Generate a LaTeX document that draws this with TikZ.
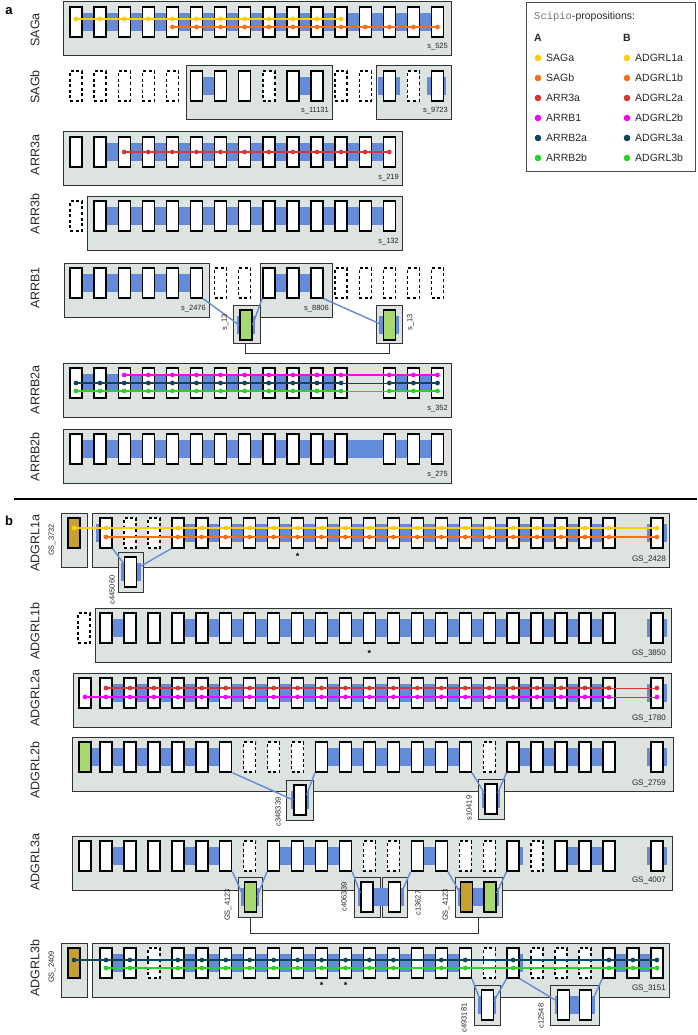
\documentclass[tikz,border=0pt]{standalone}
\usepackage{fontspec}
\setmainfont{Liberation Sans}
\setmonofont{Liberation Mono}
\usetikzlibrary{positioning}

\definecolor{boxgray}{RGB}{221,227,223}
\definecolor{intron}{RGB}{99,139,218}
\definecolor{sagYel}{RGB}{255,204,0}
\definecolor{sagOra}{RGB}{250,112,22}
\definecolor{arrRed}{RGB}{212,56,56}
\definecolor{arrMag}{RGB}{255,0,255}
\definecolor{arrTeal}{RGB}{16,68,88}
\definecolor{arrGrn}{RGB}{34,214,34}
\definecolor{exGreen}{RGB}{168,216,112}
\definecolor{exGold}{RGB}{199,160,52}

\pgfdeclarelayer{boxes}
\pgfdeclarelayer{bands}
\pgfsetlayers{boxes,bands,main}

\newcommand{\ax}[1]{76+24.1*(#1-1)}
\newcommand{\bx}[1]{106+23.95*(#1-1)}
\newcommand{\exonsA}[4]{\foreach \i in {#3} {\node[#2] (#1\i) at ({\ax{\i}},#4) {};}}
\newcommand{\exonsB}[4]{\foreach \i in {#3} {\node[#2] (#1\i) at ({\bx{\i}},#4) {};}}
\newcommand{\grp}[2]{\begin{pgfonlayer}{boxes}\draw[grpbox] #1 rectangle #2;\end{pgfonlayer}}
\newcommand{\band}[2]{\begin{pgfonlayer}{bands}\fill[intron] ([yshift=9pt]#1.center) rectangle ([yshift=-9pt]#2.center);\end{pgfonlayer}}
\newcommand{\stub}[3]{\begin{pgfonlayer}{bands}\fill[intron] ([shift={(-#2pt,9pt)}]#1.center) rectangle ([shift={(#3pt,-9pt)}]#1.center);\end{pgfonlayer}}
\newcommand{\propline}[6]{\draw[propln,#1] ([yshift=#6pt]#2#3.center) -- ([yshift=#6pt]#2#4.center);
  \foreach \k in {#5} {\fill[#1] ([yshift=#6pt]#2\k.center) circle (2.4pt);}}

\begin{document}
\begin{tikzpicture}[x=1pt,y=-1pt,
  exon/.style={draw=black,fill=white,line width=1.4pt,minimum width=12pt,minimum height=30pt,inner sep=0pt},
  lost/.style={exon,dash pattern=on 3pt off 2.6pt},
  gsgreen/.style={exon,fill=exGreen},
  gsgold/.style={exon,fill=exGold},
  grpbox/.style={draw=black!80,fill=boxgray,line width=1pt},
  link/.style={intron,line width=1.4pt},
  propln/.style={line width=1.4pt},
  gapln/.style={line width=0.6pt},
  bracket/.style={draw=black!80,line width=0.9pt},
  panel/.style={font=\bfseries\fontsize{13}{15}\selectfont},
  rowlbl/.style={rotate=90,font=\fontsize{12.5}{14}\selectfont,text=black!85},
  sidelbl/.style={rotate=90,font=\fontsize{7.5}{9}\selectfont,text=black!85},
  idlbl/.style={anchor=base east,inner sep=0pt,font=\fontsize{7.5}{9}\selectfont,text=black!85},
  gslbl/.style={anchor=base east,inner sep=0pt,font=\fontsize{8}{9}\selectfont,text=black!85},
  star/.style={inner sep=0pt,font=\bfseries\fontsize{9}{9}\selectfont},
  legtxt/.style={anchor=west,inner sep=0pt,font=\fontsize{10.5}{12}\selectfont,text=black!85}]
\useasboundingbox (0,0) rectangle (697,1035);

% panel a
\node[panel] (pa) at (9,11) {a};

% SAGa
\node[rowlbl] (nSAGa) at (35,30) {SAGa};
\grp{(63,2)}{(451,56)}
\exonsA{sga}{exon}{1,...,16}{22}
\band{sga1}{sga16}
\propline{sagYel}{sga}{1}{12}{1,...,12}{3}
\propline{sagOra}{sga}{5}{16}{5,...,16}{-5}
\node[idlbl] (id525) at (448,49) {s\_525};

% SAGb
\node[rowlbl] (nSAGb) at (35,87) {SAGb};
\grp{(186,66)}{(332,120)}
\grp{(376,66)}{(451,120)}
\exonsA{sgb}{lost}{1,2,3,4,5,9,12,13,15}{86}
\exonsA{sgb}{exon}{6,7,8,10,11,14,16}{86}
\band{sgb6}{sgb7}
\band{sgb10}{sgb11}
\stub{sgb14}{11}{11}
\stub{sgb16}{11}{8}
\node[idlbl] (id11131) at (329,113) {s\_11131};
\node[idlbl] (id9723) at (448,113) {s\_9723};

% ARR3a
\node[rowlbl] (nARR3a) at (35,155) {ARR3a};
\grp{(63,132)}{(402,186)}
\exonsA{aca}{exon}{1,...,14}{152}
\band{aca2}{aca14}
\propline{arrRed}{aca}{3}{14}{3,...,14}{0}
\node[idlbl] (id219) at (399,179) {s\_219};

% ARR3b
\node[rowlbl] (nARR3b) at (35,214) {ARR3b};
\exonsA{acb}{lost}{1}{216}
\grp{(87,196)}{(402,250)}
\exonsA{acb}{exon}{2,...,14}{216}
\band{acb2}{acb14}
\node[idlbl] (id132) at (399,243) {s\_132};

% ARRB1
\node[rowlbl] (nARRB1) at (35,288) {ARRB1};
\grp{(64,263)}{(209,317)}
\grp{(260,263)}{(332,317)}
\exonsA{abo}{exon}{1,2,3,4,5,6,9,10,11}{283}
\exonsA{abo}{lost}{7,8,12,13,14,15,16}{283}
\band{abo1}{abo6}
\band{abo9}{abo11}
\node[idlbl] (id2476) at (206,310) {s\_2476};
\node[idlbl] (id8806) at (329,310) {s\_8806};
\grp{(233,305)}{(260,343)}
\grp{(376.5,305)}{(402,343)}
\node[gsgreen] (s13a) at (245.8,325) {};
\node[gsgreen] (s13b) at (389.3,325) {};
\stub{s13a}{9}{9}
\stub{s13b}{10}{10}
\draw[link] (abo6.south east) -- (s13a.west);
\draw[link] (abo9.south west) -- (s13a.east);
\draw[link] (abo11.south east) -- (s13b.west);
\coordinate (brA) at (245.8,343);
\coordinate (brB) at (389.3,343);
\draw[bracket] (brA) -- ++(0,10) -| (brB);
\node[sidelbl] (ls13a) at (225,322) {s\_13};
\node[sidelbl] (ls13b) at (410.5,322) {s\_13};

% ARRB2a
\node[rowlbl] (nARRB2a) at (35,390) {ARRB2a};
\grp{(63,363)}{(451,417)}
\exonsA{ata}{exon}{1,2,3,4,5,6,7,8,9,10,11,12,14,15,16}{383}
\band{ata1}{ata12}
\band{ata14}{ata16}
\propline{arrMag}{ata}{3}{16}{3,4,5,6,7,8,9,10,11,12,14,15,16}{8}
\propline{arrTeal}{ata}{1}{12}{1,...,12}{0}
\propline{arrTeal}{ata}{14}{16}{14,15,16}{0}
\draw[gapln,arrTeal] (ata12.center) -- (ata14.center);
\propline{arrGrn}{ata}{1}{12}{1,...,12}{-8}
\propline{arrGrn}{ata}{14}{16}{14,15,16}{-8}
\draw[gapln,arrGrn] ([yshift=-8pt]ata12.center) -- ([yshift=-8pt]ata14.center);
\node[idlbl] (id352) at (448,410) {s\_352};

% ARRB2b
\node[rowlbl] (nARRB2b) at (35,457) {ARRB2b};
\grp{(63,429)}{(451,483)}
\exonsA{atb}{exon}{1,2,3,4,5,6,7,8,9,10,11,12,14,15,16}{449}
\band{atb1}{atb16}
\node[idlbl] (id275) at (448,476) {s\_275};

% legend
\draw[draw=black!70,line width=1pt] (526,3) rectangle (695,172);
\node[legtxt,font=\fontsize{10.5}{12}\selectfont] (legT) at (534,17) {{\color{black!55}\ttfamily Scipio}-propositions:};
\node[legtxt,font=\bfseries\fontsize{10.5}{12}\selectfont] (legA) at (534,38) {A};
\node[legtxt,font=\bfseries\fontsize{10.5}{12}\selectfont] (legB) at (623,38) {B};
\foreach \c/\ta/\tb [count=\n] in {sagYel/SAGa/ADGRL1a,sagOra/SAGb/ADGRL1b,arrRed/ARR3a/ADGRL2a,arrMag/ARRB1/ADGRL2b,arrTeal/ARRB2a/ADGRL3a,arrGrn/ARRB2b/ADGRL3b}{
  \fill[\c] (538,{38+20*\n}) circle (3.3pt);
  \node[legtxt] (legA\n) at (546,{38+20*\n}) {\ta};
  \fill[\c] (627,{38+20*\n}) circle (3.3pt);
  \node[legtxt] (legB\n) at (635,{38+20*\n}) {\tb};
}

% separator
\coordinate (sepL) at (14,499);
\coordinate (sepR) at (697,499);
\draw[line width=1.3pt] (sepL) -- (sepR);

% panel b
\node[panel] (pb) at (9,521) {b};

% ADGRL1a
\node[rowlbl] (nL1a) at (35,543) {ADGRL1a};
\grp{(61,513)}{(87,567)}
\grp{(92.5,513)}{(669.5,567)}
\node[gsgold] (gs3732) at (74,533) {};
\exonsB{loa}{exon}{1,4,5,6,7,8,9,10,11,12,13,14,15,16,17,18,19,20,21,22,24}{533}
\exonsB{loa}{lost}{2,3}{533}
\stub{loa1}{10}{0}
\band{loa4}{loa22}
\stub{loa24}{10}{10}
\draw[propln,sagYel] ([yshift=5pt]gs3732.center) -- ([yshift=5pt]loa1.center);
\fill[sagYel] ([yshift=5pt]gs3732.center) circle (2.4pt);
\propline{sagYel}{loa}{1}{24}{1,4,5,6,7,8,9,10,11,12,13,14,15,16,17,18,19,20,21,22,24}{5}
\propline{sagOra}{loa}{1}{24}{1,4,5,6,7,8,9,10,11,12,13,14,15,16,17,18,19,20,21,22,24}{-4}
\grp{(118,552)}{(143.5,592)}
\node[exon] (c445) at (130.7,572) {};
\stub{c445}{10}{10}
\draw[link] (loa1.south east) -- ([yshift=8pt]c445.west);
\draw[link] (loa4.south west) -- ([yshift=4pt]c445.east);
\node[star] (st1) at ({\bx{9}},556) {*};
\node[sidelbl] (lgs3732) at (52,540) {GS\_3732};
\node[sidelbl] (lc445) at (112,590) {c445060};
\node[gslbl] (gs2428) at (666,561) {GS\_2428};

% ADGRL1b
\node[rowlbl] (nL1b) at (35,631) {ADGRL1b};
\node[lost] (lob0) at (84,628) {};
\grp{(95.5,608)}{(671,662)}
\exonsB{lob}{exon}{1,...,22,24}{628}
\band{lob1}{lob2}
\band{lob4}{lob22}
\stub{lob24}{10}{10}
\node[star] (st2) at ({\bx{12}},653) {*};
\node[gslbl] (gs3850) at (666,655) {GS\_3850};

% ADGRL2a
\node[rowlbl] (nL2a) at (35,698) {ADGRL2a};
\grp{(73,673)}{(671,727)}
\node[exon] (lta0) at (85,693) {};
\exonsB{lta}{exon}{1,...,22,24}{693}
\band{lta1}{lta22}
\stub{lta24}{10}{10}
\propline{arrRed}{lta}{1}{22}{1,...,22,24}{5}
\draw[gapln,arrRed] ([yshift=5pt]lta22.center) -- ([yshift=5pt]lta24.center);
\propline{arrMag}{lta}{0}{22}{0,...,22,24}{-4}
\draw[gapln,arrMag] ([yshift=-4pt]lta22.center) -- ([yshift=-4pt]lta24.center);
\node[gslbl] (gs1780) at (666,720) {GS\_1780};

% ADGRL2b
\node[rowlbl] (nL2b) at (35,770) {ADGRL2b};
\grp{(72.5,737)}{(673,791)}
\node[gsgreen] (ltb0) at (85,757) {};
\exonsB{ltb}{exon}{1,2,3,4,5,6,10,11,12,13,14,15,16,18,19,20,21,22,24}{757}
\exonsB{ltb}{lost}{7,8,9,17}{757}
\band{ltb0}{ltb6}
\band{ltb10}{ltb16}
\band{ltb18}{ltb22}
\stub{ltb24}{10}{10}
\grp{(286.7,780)}{(313.3,820)}
\node[exon] (c348) at (300,800) {};
\stub{c348}{9}{9}
\grp{(478,779)}{(504.4,819)}
\node[exon] (s104) at (491,799) {};
\stub{s104}{9}{9}
\draw[link] (ltb6.south east) -- (c348.west);
\draw[link] (ltb10.south west) -- ([yshift=5pt]c348.east);
\draw[link] (ltb16.south east) -- ([yshift=6pt]s104.west);
\draw[link] (ltb18.south west) -- ([yshift=6pt]s104.east);
\node[sidelbl] (lc348) at (278,812) {c348339};
\node[sidelbl] (ls104) at (469,808) {s10419};
\node[gslbl] (gs2759) at (666,785) {GS\_2759};

% ADGRL3a
\node[rowlbl] (nL3a) at (35,862) {ADGRL3a};
\grp{(72.5,836)}{(672,890)}
\node[exon] (lha0) at (85,856) {};
\exonsB{lha}{exon}{1,2,3,4,5,6,8,9,10,11,14,15,18,20,21,22,24}{856}
\exonsB{lha}{lost}{7,12,13,16,17,19}{856}
\band{lha1}{lha2}
\band{lha4}{lha6}
\band{lha8}{lha11}
\band{lha14}{lha15}
\stub{lha18}{0}{10}
\band{lha20}{lha22}
\stub{lha24}{10}{10}
\grp{(238,877)}{(262.5,917)}
\node[gsgreen] (g41a) at (250.3,897) {};
\stub{g41a}{9}{9}
\grp{(354,877)}{(380,917)}
\grp{(382,877)}{(407,917)}
\node[exon] (c406) at (367,897) {};
\node[exon] (c136) at (394.5,897) {};
\band{c406}{c136}
\stub{c406}{9}{0}
\stub{c136}{0}{9}
\grp{(455.6,877)}{(502,917)}
\node[gsgold] (g41g) at (466.7,897) {};
\node[gsgreen] (g41b) at (490,897) {};
\band{g41g}{g41b}
\stub{g41g}{9}{0}
\stub{g41b}{0}{9}
\draw[link] (lha6.south east) -- (g41a.west);
\draw[link] (lha8.south west) -- (g41a.east);
\draw[link] (lha11.south east) -- ([yshift=4pt]c406.west);
\draw[link] (lha14.south west) -- ([yshift=4pt]c136.east);
\draw[link] (lha15.south east) -- ([yshift=4pt]g41g.west);
\draw[link] (lha18.south west) -- ([yshift=4pt]g41b.east);
\coordinate (brC) at (250.3,917);
\coordinate (brD) at (478.8,917);
\draw[bracket] (brC) -- ++(0,16) -| (brD);
\node[sidelbl] (lg41a) at (228,905) {GS\_4123};
\node[sidelbl] (lc406) at (344,897) {c406339};
\node[sidelbl] (lc136) at (418,903) {c13627};
\node[sidelbl] (lg41b) at (446,905) {GS\_4123};
\node[gslbl] (gs4007) at (666,882) {GS\_4007};

% ADGRL3b
\node[rowlbl] (nL3b) at (35,968) {ADGRL3b};
\grp{(61,943)}{(87,997)}
\grp{(92.5,943)}{(669.5,997)}
\node[gsgold] (gs2409) at (74,963) {};
\exonsB{lhb}{exon}{1,2,4,5,6,7,8,9,10,11,12,13,14,15,16,18,22,23,24}{963}
\exonsB{lhb}{lost}{3,17,19,20,21}{963}
\band{lhb1}{lhb2}
\band{lhb4}{lhb16}
\stub{lhb18}{0}{10}
\band{lhb22}{lhb24}
\draw[propln,arrTeal] ([yshift=3pt]gs2409.center) -- ([yshift=3pt]lhb1.center);
\fill[arrTeal] ([yshift=3pt]gs2409.center) circle (2.4pt);
\propline{arrTeal}{lhb}{1}{24}{1,2,4,5,6,7,8,9,10,11,12,13,15,16,18,22,23,24}{3}
\propline{arrGrn}{lhb}{1}{24}{1,2,4,5,6,7,8,9,10,11,12,13,15,16,18,22,23,24}{-5}
\grp{(474.7,985)}{(500,1025)}
\node[exon] (c493) at (487.3,1005) {};
\stub{c493}{9}{9}
\grp{(550,985)}{(599,1025)}
\node[exon] (c125a) at (563.5,1005) {};
\node[exon] (c125b) at (585.5,1005) {};
\band{c125a}{c125b}
\stub{c125a}{9}{0}
\stub{c125b}{0}{9}
\draw[link] (lhb16.south east) -- ([yshift=4pt]c493.west);
\draw[link] (lhb18.south west) -- ([yshift=4pt]c493.east);
\draw[link] (lhb18.south east) -- ([yshift=4pt]c125a.west);
\draw[link] (lhb22.south west) -- ([yshift=4pt]c125b.east);
\node[star] (st3) at ({\bx{10}},985) {*};
\node[star] (st4) at ({\bx{11}},985) {*};
\node[sidelbl] (lgs2409) at (52,967) {GS\_2409};
\node[sidelbl] (lc493) at (464,1018) {c493181};
\node[sidelbl] (lc125) at (541,1016) {c12548};
\node[gslbl] (gs3151) at (666,990) {GS\_3151};
\end{tikzpicture}
\end{document}
